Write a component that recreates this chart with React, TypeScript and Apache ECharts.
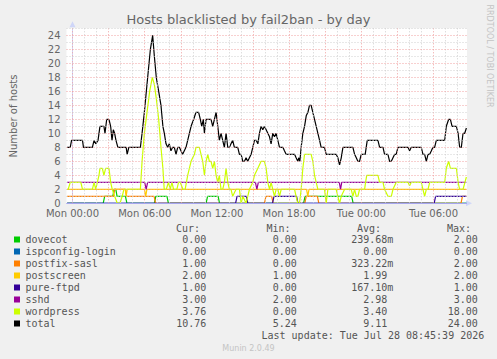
import React, { useEffect, useRef } from 'react';
import * as echarts from 'echarts';

const TITLE = 'Hosts blacklisted by fail2ban - by day';
const Y_NAME = 'Number of hosts';
const WATERMARK = 'RRDTOOL / TOBI OETIKER';
const FOOTER = 'Munin 2.0.49';
const LAST_UPDATE = 'Last update: Tue Jul 28 08:45:39 2026';

// x values are hours since Mon 00:00
const xTickHours = [0, 6, 12, 18, 24, 30];
const xTickLabels = ['Mon 00:00', 'Mon 06:00', 'Mon 12:00', 'Mon 18:00', 'Tue 00:00', 'Tue 06:00'];
const yTickValues = [0, 2, 4, 6, 8, 10, 12, 14, 16, 18, 20, 22, 24];

const seriesNames = ['dovecot', 'ispconfig-login', 'postfix-sasl', 'postscreen', 'pure-ftpd', 'sshd', 'wordpress', 'total'];
const seriesColors = ['#00cc00', '#0066b3', '#ff8000', '#ffcc00', '#330099', '#990099', '#ccff00', '#000000'];
const curValues = ['0.00', '0.00', '1.00', '2.00', '1.00', '3.00', '3.76', '10.76'];
const minValues = ['0.00', '0.00', '0.00', '1.00', '0.00', '2.00', '0.00', '5.24'];
const avgValues = ['239.68m', '0.00', '323.22m', '1.99', '167.10m', '2.98', '3.40', '9.11'];
const maxValues = ['2.00', '0.00', '2.00', '2.00', '1.00', '3.00', '18.00', '24.00'];

const dovecot: [number, number][] = [
  [-0.45, 0], [2.55, 0], [2.67, 1], [3.35, 1], [3.45, 2], [3.6, 2], [3.7, 1], [4.4, 1], [4.52, 0],
  [6.8, 0], [6.92, 1], [7.85, 1], [7.97, 0], [11.1, 0], [11.22, 1], [12.1, 1], [12.22, 0],
  [19.2, 0], [19.32, 1], [23.2, 1], [23.32, 0], [32.73, 0],
];
const ispconfigLogin: [number, number][] = [[-0.45, 0], [32.73, 0]];
const postfixSasl: [number, number][] = [
  [-0.45, 1], [3.4, 1], [3.5, 2], [4.4, 2], [4.5, 1], [6.78, 1], [6.9, 0], [15.95, 0], [16.07, 1],
  [16.55, 1], [16.67, 0], [19.3, 0], [19.42, 1], [20.35, 1], [20.47, 0], [32.28, 0], [32.4, 1], [32.73, 1],
];
const postscreen: [number, number][] = [
  [-0.45, 2], [4.38, 2], [4.46, 1], [4.54, 2], [5.98, 2], [6.08, 1], [6.18, 2],
  [19.45, 2], [19.55, 1], [19.65, 2], [32.73, 2],
];
const pureFtpd: [number, number][] = [
  [-0.45, 0], [13.55, 0], [13.67, 1], [14.45, 1], [14.57, 0], [16.62, 0], [16.74, 1],
  [18.62, 1], [18.74, 0], [30.05, 0], [30.17, 1], [32.73, 1],
];
const sshd: [number, number][] = [
  [-0.45, 3], [6.0, 3], [6.12, 2], [6.24, 3], [15.2, 3], [15.32, 2], [15.44, 3],
  [22.17, 3], [22.27, 2], [22.37, 3], [32.73, 3],
];
const wordpress: [number, number][] = [
  [-0.45, 2], [-0.36, 2], [-0.19, 3], [0.69, 3], [0.83, 2], [1.65, 2], [1.79, 3], [1.93, 2], [2.06, 3],
  [2.2, 4], [2.28, 5], [2.48, 5], [2.61, 4], [2.75, 5], [3.03, 5], [3.17, 3], [3.3, 2], [3.5, 1],
  [3.72, 0], [3.94, 0], [4.13, 1], [4.27, 2], [5.64, 2], [5.78, 6], [5.97, 10], [6.19, 13], [6.41, 16],
  [6.63, 18], [6.8, 17], [6.96, 15], [7.16, 12], [7.35, 8], [7.51, 5], [7.62, 2], [7.79, 2], [7.98, 3],
  [8.12, 2], [8.26, 3], [8.4, 2], [8.67, 2], [8.81, 3], [8.95, 3], [9.17, 2], [9.36, 2], [9.57, 4],
  [9.85, 6], [10.13, 7], [10.26, 8], [10.54, 8], [10.68, 7], [10.82, 6], [10.96, 4], [11.1, 6],
  [11.24, 7], [11.37, 6], [11.51, 6], [11.65, 5], [11.79, 6], [11.93, 4], [12.07, 3], [12.2, 4],
  [12.34, 2], [12.48, 2], [12.62, 3], [12.76, 5], [12.9, 3], [13.04, 2], [13.17, 2], [13.31, 1],
  [13.59, 2], [13.87, 2], [14.01, 0], [14.15, 1], [14.42, 0], [14.56, 1], [14.7, 2], [14.98, 3],
  [15.12, 4], [15.4, 5], [15.67, 6], [15.95, 6], [16.09, 5], [16.23, 3], [16.37, 2], [16.5, 3],
  [16.64, 2], [16.78, 1], [16.92, 2], [17.06, 2], [17.2, 1], [17.34, 2], [18.45, 2], [18.58, 1],
  [18.72, 0], [18.86, 0], [19.0, 2], [19.14, 5], [19.28, 7], [19.83, 7], [19.97, 6], [20.11, 4],
  [20.25, 3], [20.39, 2], [20.94, 2], [21.08, 0], [21.22, 2], [21.91, 2], [22.05, 1], [22.19, 0],
  [22.33, 1], [22.61, 2], [23.16, 2], [23.3, 1], [23.44, 2], [23.58, 1], [23.71, 1], [23.85, 2],
  [24.27, 2], [24.35, 3], [24.45, 4], [25.38, 4], [25.52, 3], [25.8, 3], [25.93, 2], [26.21, 1],
  [26.49, 1], [26.63, 2], [26.9, 3], [27.88, 3], [28.01, 2.5], [28.15, 3], [28.98, 3], [29.12, 2],
  [29.26, 1], [29.4, 2], [29.54, 2], [29.68, 3], [30.93, 3], [31.06, 5], [31.26, 6], [31.4, 5],
  [31.9, 5], [32.04, 3], [32.17, 2], [32.45, 2], [32.73, 3.76],
];
const total: [number, number][] = [
  [-0.45, 8], [-0.19, 8], [-0.08, 9], [0.83, 9], [0.91, 8], [1.65, 8], [1.79, 9], [1.93, 8.5], [2.12, 9],
  [2.28, 11], [2.48, 11], [2.61, 11], [2.7, 10], [2.84, 12], [3.03, 12], [3.17, 11], [3.28, 9],
  [3.39, 10.5], [3.5, 10], [3.61, 9], [3.77, 8], [4.46, 8], [4.54, 7], [4.68, 8], [5.64, 8], [5.78, 10],
  [5.97, 13], [6.19, 17], [6.47, 22], [6.66, 24], [6.8, 21], [6.96, 18], [7.16, 16], [7.35, 14],
  [7.51, 11], [7.63, 10], [7.77, 8.5], [7.91, 8], [8.04, 8.5], [8.18, 7.5], [8.32, 8], [8.46, 8],
  [8.6, 7], [8.74, 8], [8.88, 8], [9.01, 7.5], [9.15, 7], [9.29, 7.5], [9.43, 8], [9.57, 9], [9.71, 10],
  [9.85, 11], [10.07, 12], [10.26, 13], [10.48, 13], [10.62, 12], [10.74, 11], [10.87, 12], [10.96, 10],
  [11.1, 12], [11.32, 12], [11.51, 12], [11.65, 11], [11.79, 12], [11.93, 13], [12.07, 11], [12.2, 9],
  [12.34, 10], [12.48, 9], [12.62, 8], [12.76, 10], [12.9, 8], [13.04, 8], [13.17, 8.5], [13.31, 9],
  [13.45, 8], [13.73, 8], [13.87, 7], [14.01, 7], [14.15, 6], [14.29, 6], [14.42, 6.5], [14.56, 6],
  [14.7, 6.5], [14.84, 7], [14.98, 8], [15.12, 9], [15.26, 9], [15.4, 8.5], [15.53, 10], [15.67, 11],
  [15.81, 10.5], [15.95, 11], [16.09, 10.5], [16.23, 10], [16.37, 9.5], [16.5, 8.5], [16.64, 10],
  [16.78, 9.5], [16.92, 10], [17.06, 9], [17.2, 8], [17.48, 8], [17.61, 7.5], [17.75, 7], [18.45, 7],
  [18.58, 6.5], [18.72, 6], [18.81, 6.5], [18.89, 6], [19.0, 8], [19.14, 10], [19.28, 11], [19.42, 12.5],
  [19.56, 13], [19.69, 14], [19.83, 14], [19.97, 13], [20.11, 12], [20.25, 11], [20.39, 10], [20.53, 9],
  [20.66, 8], [20.94, 8], [21.08, 7], [21.91, 7], [22.05, 6.5], [22.19, 5.5], [22.33, 6.5], [22.47, 8],
  [23.3, 8], [23.44, 7], [23.58, 6.5], [23.71, 6], [23.85, 6], [23.99, 7], [24.32, 7], [24.49, 9],
  [25.38, 9], [25.52, 8], [25.8, 8], [25.93, 7], [26.21, 7], [26.35, 6], [26.49, 6], [26.63, 6.5],
  [26.77, 7], [26.9, 7], [27.04, 8], [27.88, 8], [28.01, 7.5], [28.15, 8], [28.98, 8], [29.12, 7],
  [29.26, 7], [29.4, 6], [29.54, 7], [29.68, 7], [29.82, 7.5], [29.95, 8], [30.09, 8], [30.23, 9],
  [30.93, 9], [31.06, 11], [31.26, 12], [31.4, 12], [31.54, 11], [31.9, 11], [32.04, 10], [32.17, 8],
  [32.31, 8], [32.45, 10], [32.59, 10], [32.73, 10.76],
];
const seriesData = [dovecot, ispconfigLogin, postfixSasl, postscreen, pureFtpd, sshd, wordpress, total];

const X_MIN = -0.5;
const X_MAX = 32.78;
const Y_MAX = 25;

const FONT = '#666666';
const MINOR = '#d0d0d0';
const MAJOR = '#f0a0a0';

export default function App() {
  const ref = useRef<HTMLDivElement>(null);

  useEffect(() => {
    if (!ref.current) return;
    const chart = echarts.init(ref.current, undefined, { renderer: 'svg' });

    const gridLines: any[] = [];
    for (let h = 0; h <= Math.floor(X_MAX); h++) {
      gridLines.push({ xAxis: h, lineStyle: { color: h % 3 === 0 ? MAJOR : MINOR, type: [1, 2], width: 1 } });
    }
    for (let v = 1; v <= Y_MAX; v++) {
      gridLines.push({ yAxis: v, lineStyle: { color: v % 2 === 0 ? MAJOR : MINOR, type: [1, 2], width: 1 } });
    }

    const graphic: any[] = [];
    graphic.push({
      type: 'text', x: 13, y: 116, rotation: Math.PI / 2,
      style: { text: Y_NAME, fill: FONT, fontSize: 10, fontFamily: 'DejaVu Sans', align: 'center', verticalAlign: 'middle' },
    });
    graphic.push({
      type: 'text', x: 489, y: 56, rotation: -Math.PI / 2,
      style: { text: WATERMARK, fill: '#c4c4c4', fontSize: 8, fontFamily: 'DejaVu Sans', align: 'center', verticalAlign: 'middle' },
    });
    graphic.push({
      type: 'text', x: 248.5, y: 348,
      style: { text: FOOTER, fill: '#c4c4c4', fontSize: 8, fontFamily: 'DejaVu Sans', align: 'center', verticalAlign: 'middle' },
    });
    const mono = 'DejaVu Sans Mono';
    const legendColor = '#555555';
    const headers = ['Cur:', 'Min:', 'Avg:', 'Max:'];
    const headerX = [176, 266.5, 357, 447];
    const colRight = [206.3, 296.8, 387.3, 477.8];
    headers.forEach((h, i) => {
      graphic.push({
        type: 'text', x: headerX[i], y: 228,
        style: { text: h, fill: legendColor, fontSize: 10, fontFamily: mono, align: 'left', verticalAlign: 'middle' },
      });
    });
    const cols = [curValues, minValues, avgValues, maxValues];
    seriesNames.forEach((name, i) => {
      const y = 239.5 + i * 12;
      graphic.push({ type: 'rect', shape: { x: 14, y: y - 3, width: 6, height: 6 }, style: { fill: seriesColors[i] } });
      graphic.push({
        type: 'text', x: 25.5, y,
        style: { text: name, fill: legendColor, fontSize: 10, fontFamily: mono, align: 'left', verticalAlign: 'middle' },
      });
      cols.forEach((col, c) => {
        const s = col[i];
        const suffix = /[a-zA-Z]$/.test(s);
        graphic.push({
          type: 'text', x: colRight[c] + (suffix ? 6 : 0), y,
          style: { text: s, fill: legendColor, fontSize: 10, fontFamily: mono, align: 'right', verticalAlign: 'middle' },
        });
      });
    });
    graphic.push({
      type: 'text', x: 261.5, y: 335.5,
      style: { text: LAST_UPDATE, fill: legendColor, fontSize: 10, fontFamily: mono, align: 'left', verticalAlign: 'middle' },
    });

    const series: any[] = [
      {
        type: 'line', data: [], z: 1, silent: true,
        markLine: {
          silent: true, symbol: ['none', 'none'], label: { show: false }, animation: false,
          emphasis: { disabled: true }, data: gridLines,
        },
      },
    ];
    seriesNames.forEach((name, i) => {
      series.push({
        name, type: 'line', data: seriesData[i], showSymbol: false, symbol: 'none', z: 2,
        lineStyle: { color: seriesColors[i], width: 1.2 }, itemStyle: { color: seriesColors[i] },
        emphasis: { disabled: true }, silent: true,
      });
    });
    series.push({
      type: 'line', data: [], z: 5, silent: true,
      markLine: {
        silent: true, symbol: ['none', 'none'], label: { show: false }, animation: false,
        emphasis: { disabled: true },
        data: [{ yAxis: 0, lineStyle: { color: '#a6a6ee', type: 'solid', width: 1 } }],
      },
    });

    chart.setOption({
      animation: false,
      backgroundColor: '#f0f0f0',
      title: {
        text: TITLE, left: 'center', top: 12, padding: 0,
        textStyle: { fontSize: 13, fontWeight: 'normal', color: FONT, fontFamily: 'DejaVu Sans', lineHeight: 14 },
      },
      grid: {
        left: 66.5, right: 30, top: 28.3, bottom: 155.7, show: true,
        backgroundColor: '#ffffff', borderWidth: 0, containLabel: false,
      },
      xAxis: {
        type: 'value', min: X_MIN, max: X_MAX,
        axisLine: {
          show: true, lineStyle: { color: '#CFD6F8', width: 1 },
          symbol: ['none', 'triangle'], symbolSize: [6, 6], symbolOffset: [0, 2],
        },
        axisTick: { show: false },
        splitLine: { show: false },
        axisLabel: {
          customValues: xTickHours,
          formatter: (v: number) => {
            const i = xTickHours.indexOf(v);
            return i >= 0 ? xTickLabels[i] : '';
          },
          color: FONT, fontSize: 10, fontFamily: 'DejaVu Sans', margin: 5.5, lineHeight: 10,
        },
      },
      yAxis: {
        type: 'value', min: 0, max: Y_MAX,
        axisLine: {
          show: true, lineStyle: { color: '#CFD6F8', width: 1 },
          symbol: ['none', 'triangle'], symbolSize: [6, 6], symbolOffset: [0, 4],
        },
        axisTick: { show: false },
        splitLine: { show: false },
        axisLabel: {
          customValues: yTickValues,
          color: FONT, fontSize: 10, fontFamily: 'DejaVu Sans', margin: 6, lineHeight: 8,
        },
      },
      graphic,
      series,
    });

    return () => chart.dispose();
  }, []);

  return (
    <div
      ref={ref}
      style={{ position: 'fixed', left: 0, top: 0, width: 497, height: 359, background: '#f0f0f0' }}
    />
  );
}
